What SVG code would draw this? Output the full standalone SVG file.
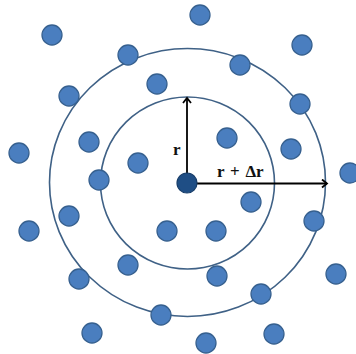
<svg xmlns="http://www.w3.org/2000/svg" width="356" height="354" viewBox="0 0 356 354">
<style>
.dot{fill:#4A7EBF;stroke:#36608F;stroke-width:1.3}
.ring{fill:none;stroke:#3F6186;stroke-width:1.6}
.arr{stroke:#000;stroke-width:1.8;fill:none;marker-end:url(#ah)}
.lbl{font-family:"Liberation Serif","Times New Roman",serif;font-weight:bold;font-size:17px;fill:#111}
</style>
<defs>
<marker id="ah" markerWidth="10" markerHeight="10" refX="7" refY="5" orient="auto" markerUnits="userSpaceOnUse">
<polyline points="2,1 7,5 2,9" fill="none" stroke="#000" stroke-width="1.8"/>
</marker>
</defs>
<rect width="356" height="354" fill="#fff"/>
<g id="rings">
<ellipse class="ring" cx="187.5" cy="182.5" rx="138" ry="134"/>
<ellipse class="ring" cx="187.5" cy="183" rx="87" ry="86"/>
</g>
<g id="dots">
<circle class="dot" cx="200" cy="15" r="10"/>
<circle class="dot" cx="52" cy="35" r="10"/>
<circle class="dot" cx="302" cy="45" r="10"/>
<circle class="dot" cx="128" cy="55" r="10"/>
<circle class="dot" cx="240" cy="65" r="10"/>
<circle class="dot" cx="157" cy="84" r="10"/>
<circle class="dot" cx="69" cy="96" r="10"/>
<circle class="dot" cx="300" cy="104" r="10"/>
<circle class="dot" cx="89" cy="142" r="10"/>
<circle class="dot" cx="227" cy="138" r="10"/>
<circle class="dot" cx="19" cy="153" r="10"/>
<circle class="dot" cx="291" cy="149" r="10"/>
<circle class="dot" cx="138" cy="163" r="10"/>
<circle class="dot" cx="99" cy="180" r="10"/>
<circle class="dot" cx="350" cy="173" r="10"/>
<circle class="dot" cx="251" cy="202" r="10"/>
<circle class="dot" cx="69" cy="216" r="10"/>
<circle class="dot" cx="314" cy="221" r="10"/>
<circle class="dot" cx="29" cy="231" r="10"/>
<circle class="dot" cx="167" cy="231" r="10"/>
<circle class="dot" cx="216" cy="231" r="10"/>
<circle class="dot" cx="128" cy="265" r="10"/>
<circle class="dot" cx="217" cy="276" r="10"/>
<circle class="dot" cx="79" cy="279" r="10"/>
<circle class="dot" cx="336" cy="274" r="10"/>
<circle class="dot" cx="261" cy="294" r="10"/>
<circle class="dot" cx="161" cy="315" r="10"/>
<circle class="dot" cx="92" cy="333" r="10"/>
<circle class="dot" cx="274" cy="334" r="10"/>
<circle class="dot" cx="206" cy="343" r="10"/>
</g>
<g id="connectors">
<line class="arr" x1="187" y1="183" x2="187" y2="98"/>
<line class="arr" x1="187" y1="183.5" x2="327" y2="183.5"/>
</g>
<g id="center">
<circle cx="187" cy="183" r="10" fill="#1F4E85" stroke="#173D69" stroke-width="1.2"/>
</g>
<g id="labels">
<text class="lbl" x="173" y="155">r</text>
<text class="lbl" x="217" y="177" word-spacing="1.5">r + Δr</text>
</g>
</svg>
